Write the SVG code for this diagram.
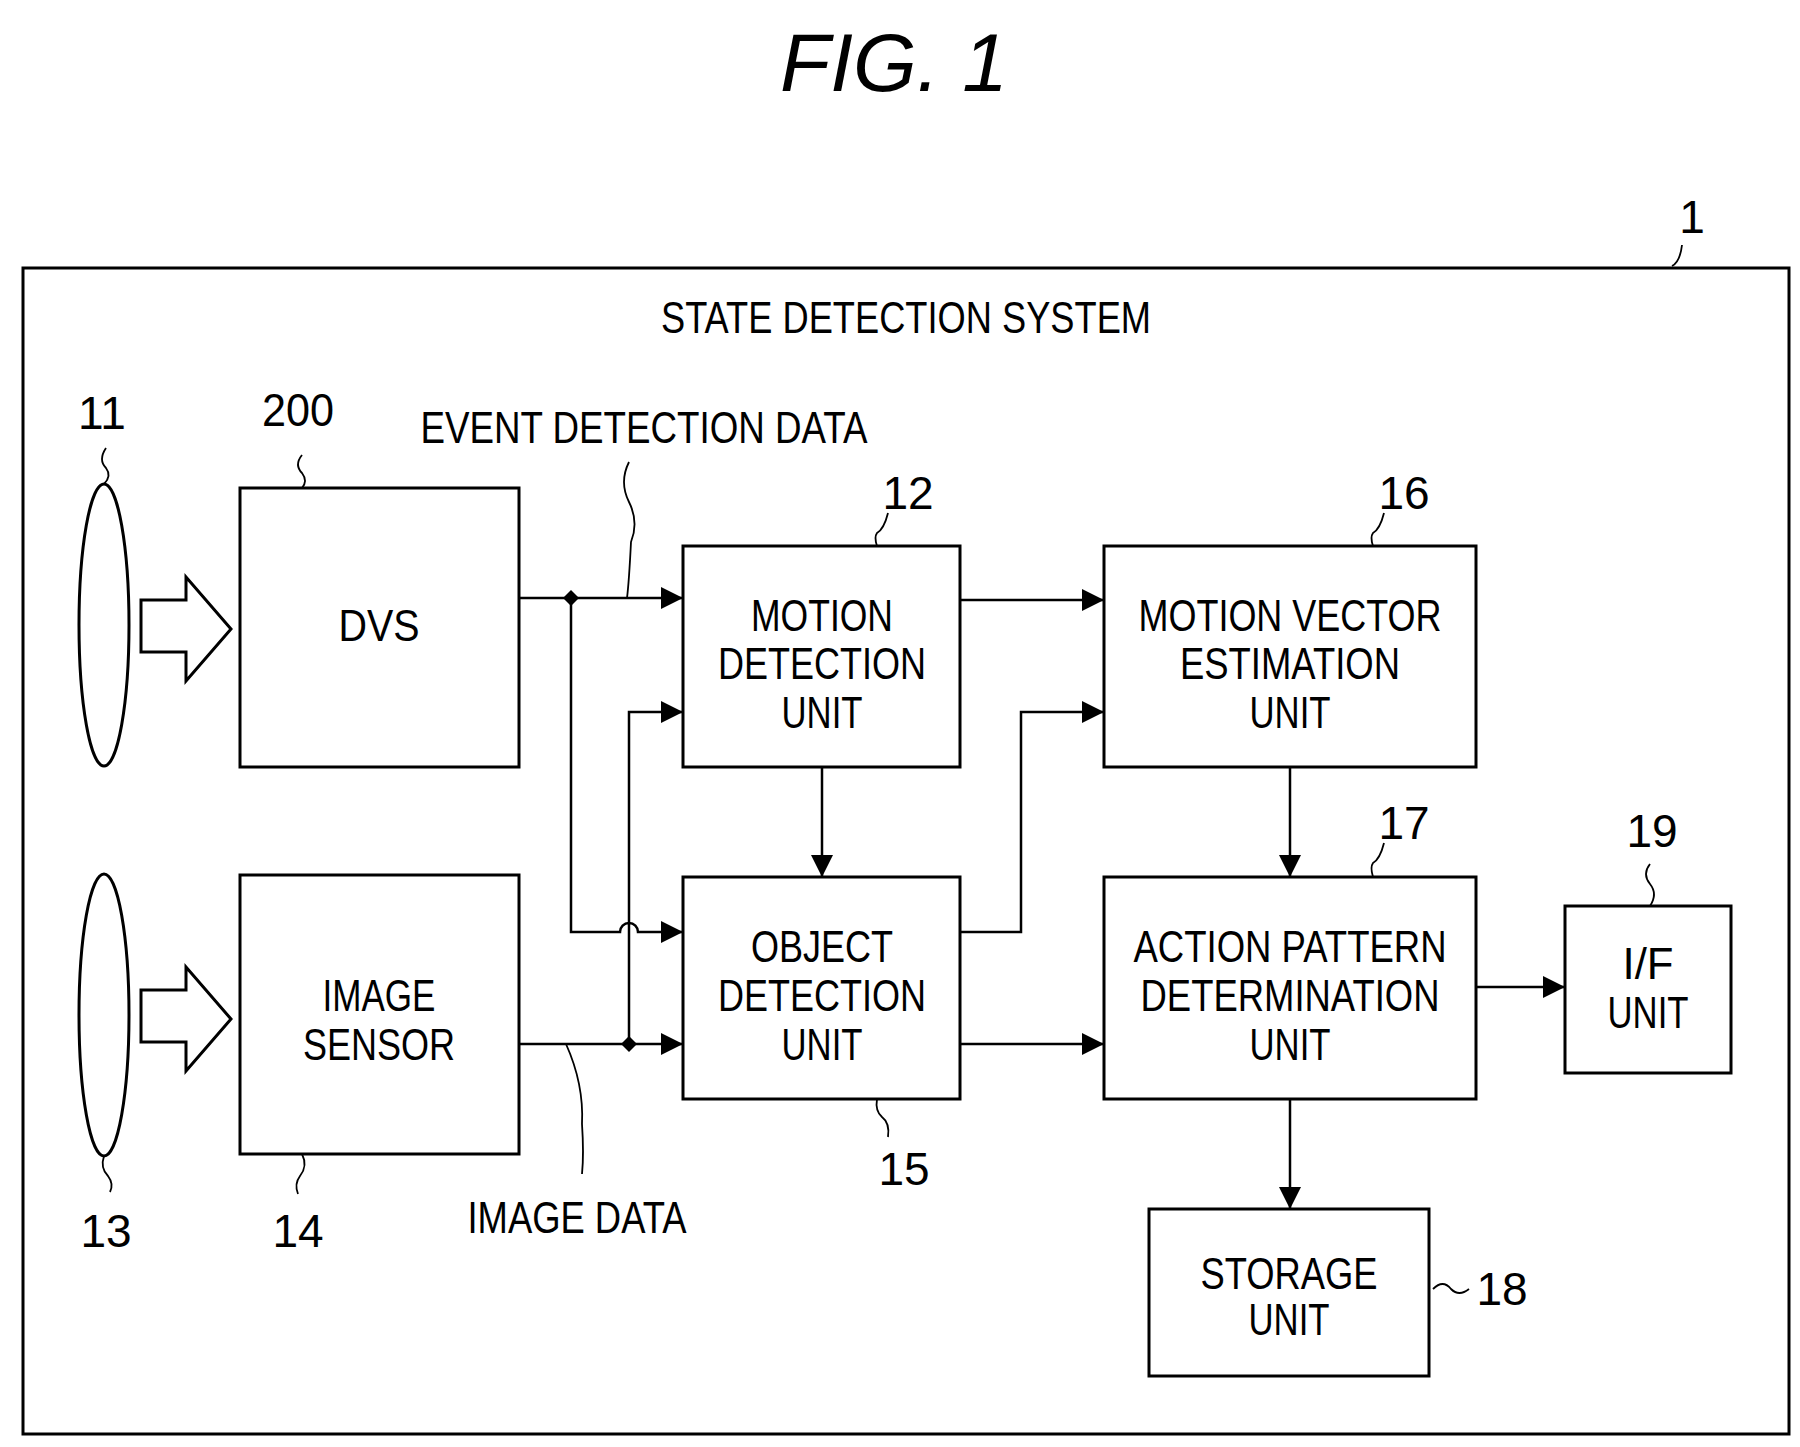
<svg xmlns="http://www.w3.org/2000/svg" width="1800" height="1447" viewBox="0 0 1800 1447">
<defs>
<marker id="ah" viewBox="0 0 10 10" refX="10" refY="5" markerWidth="22" markerHeight="22" markerUnits="userSpaceOnUse" orient="auto"><path d="M0,0 L10,5 L0,10 Z" fill="#000"/></marker>
<style>
.b{fill:#fff;stroke:#000;stroke-width:3}
.c{fill:none;stroke:#000;stroke-width:2.5}
.l{fill:none;stroke:#000;stroke-width:1.8}
text{font-family:"Liberation Sans",Arial,sans-serif;font-size:44px;fill:#000;text-anchor:middle;dominant-baseline:central}
.n{font-size:46px}
</style>
</defs>
<rect width="1800" height="1447" fill="#fff"/>
<text x="894" y="62" style="font-size:82px;font-style:italic">FIG. 1</text>
<g id="system">
<rect x="23" y="268" width="1766" height="1166" class="b"/>
<text x="906" y="317" textLength="490" lengthAdjust="spacingAndGlyphs">STATE DETECTION SYSTEM</text>
<text class="n" x="1692" y="217">1</text>
<path class="l" d="M1672,266 Q1680,262 1682,245"/>
</g>
<g id="lens11"><ellipse cx="104" cy="625" rx="25" ry="141" class="b"/><text class="n" x="102" y="413">11</text><path class="l" d="M106,448 q-8,12 0,20 q6,8 -2,16"/></g>
<g id="lens13"><ellipse cx="104" cy="1015" rx="25" ry="141" class="b"/><text class="n" x="106" y="1231">13</text><path class="l" d="M104,1156 q-4,12 4,20 q6,8 2,16"/></g>
<g id="light1"><path class="b" d="M141,600 H186 V577 L231,629 L186,681 V652 H141 Z"/></g>
<g id="light2"><path class="b" d="M141,990 H186 V967 L231,1019 L186,1071 V1042 H141 Z"/></g>
<g id="dvs"><rect x="240" y="488" width="279" height="279" class="b"/><text x="379" y="625" textLength="81" lengthAdjust="spacingAndGlyphs">DVS</text><text class="n" x="298" y="410" textLength="72" lengthAdjust="spacingAndGlyphs">200</text><path class="l" d="M302,455 q-8,10 0,18 q6,8 0,15"/></g>
<g id="imagesensor"><rect x="240" y="875" width="279" height="279" class="b"/><text x="379" y="995" textLength="113" lengthAdjust="spacingAndGlyphs">IMAGE</text><text x="379" y="1044" textLength="152" lengthAdjust="spacingAndGlyphs">SENSOR</text><text class="n" x="298" y="1231">14</text><path class="l" d="M302,1154 q6,12 -2,22 q-6,8 -2,18"/></g>
<g id="motion"><rect x="683" y="546" width="277" height="221" class="b"/><text x="822" y="615" textLength="142" lengthAdjust="spacingAndGlyphs">MOTION</text><text x="822" y="663" textLength="208" lengthAdjust="spacingAndGlyphs">DETECTION</text><text x="822" y="712" textLength="81" lengthAdjust="spacingAndGlyphs">UNIT</text><text class="n" x="908" y="493">12</text><path class="l" d="M888,513 q-4,16 -11,20 q-3,4 0,13"/></g>
<g id="object"><rect x="683" y="877" width="277" height="222" class="b"/><text x="822" y="946" textLength="142" lengthAdjust="spacingAndGlyphs">OBJECT</text><text x="822" y="995" textLength="208" lengthAdjust="spacingAndGlyphs">DETECTION</text><text x="822" y="1044" textLength="81" lengthAdjust="spacingAndGlyphs">UNIT</text><text class="n" x="904" y="1169">15</text><path class="l" d="M877,1099 q-2,12 5,18 q8,6 6,20"/></g>
<g id="mve"><rect x="1104" y="546" width="372" height="221" class="b"/><text x="1290" y="615" textLength="303" lengthAdjust="spacingAndGlyphs">MOTION VECTOR</text><text x="1290" y="663" textLength="220" lengthAdjust="spacingAndGlyphs">ESTIMATION</text><text x="1290" y="712" textLength="81" lengthAdjust="spacingAndGlyphs">UNIT</text><text class="n" x="1404" y="493">16</text><path class="l" d="M1384,513 q-4,16 -11,20 q-3,4 0,13"/></g>
<g id="action"><rect x="1104" y="877" width="372" height="222" class="b"/><text x="1290" y="946" textLength="313" lengthAdjust="spacingAndGlyphs">ACTION PATTERN</text><text x="1290" y="995" textLength="299" lengthAdjust="spacingAndGlyphs">DETERMINATION</text><text x="1290" y="1044" textLength="81" lengthAdjust="spacingAndGlyphs">UNIT</text><text class="n" x="1404" y="823">17</text><path class="l" d="M1384,843 q-4,16 -11,20 q-3,4 0,14"/></g>
<g id="if"><rect x="1565" y="906" width="166" height="167" class="b"/><text x="1648" y="963" textLength="51" lengthAdjust="spacingAndGlyphs">I/F</text><text x="1648" y="1012" textLength="81" lengthAdjust="spacingAndGlyphs">UNIT</text><text class="n" x="1652" y="831">19</text><path class="l" d="M1650,864 q-8,10 0,20 q8,10 0,22"/></g>
<g id="storage"><rect x="1149" y="1209" width="280" height="167" class="b"/><text x="1289" y="1273" textLength="177" lengthAdjust="spacingAndGlyphs">STORAGE</text><text x="1289" y="1319" textLength="81" lengthAdjust="spacingAndGlyphs">UNIT</text><text class="n" x="1502" y="1289">18</text><path class="l" d="M1433,1289 q10,-10 18,0 q8,8 18,0"/></g>
<g id="labels">
<text x="644" y="427" textLength="447" lengthAdjust="spacingAndGlyphs">EVENT DETECTION DATA</text>
<path class="l" d="M629,462 q-10,20 0,40 q10,20 2,40 q-2,40 -4,56"/>
<text x="577" y="1217" textLength="219" lengthAdjust="spacingAndGlyphs">IMAGE DATA</text>
<path class="l" d="M566,1044 q18,40 16,80 q2,30 0,50"/>
</g>
<g id="connectors">
<path class="c" d="M519,598 H683" marker-end="url(#ah)"/>
<path class="c" d="M571,598 V932 H620 a9,9 0 0 1 18,0 H683" marker-end="url(#ah)"/>
<path class="c" d="M519,1044 H683" marker-end="url(#ah)"/>
<path class="c" d="M629,1044 V712 H683" marker-end="url(#ah)"/>
<path class="c" d="M960,600 H1104" marker-end="url(#ah)"/>
<path class="c" d="M822,767 V877" marker-end="url(#ah)"/>
<path class="c" d="M960,932 H1021 V712 H1104" marker-end="url(#ah)"/>
<path class="c" d="M960,1044 H1104" marker-end="url(#ah)"/>
<path class="c" d="M1290,767 V877" marker-end="url(#ah)"/>
<path class="c" d="M1476,987 H1565" marker-end="url(#ah)"/>
<path class="c" d="M1290,1099 V1209" marker-end="url(#ah)"/>
<path d="M571,590 L579,598 L571,606 L563,598 Z M629,1036 L637,1044 L629,1052 L621,1044 Z" fill="#000"/>
</g>
</svg>
